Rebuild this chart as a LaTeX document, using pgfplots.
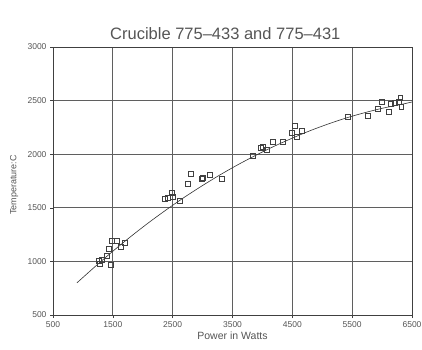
\documentclass[border=0pt]{standalone}
\usepackage{pgfplots}
\pgfplotsset{compat=1.18}
\usepackage{fontspec}
\setmainfont{Liberation Sans}
\definecolor{txt}{HTML}{555555}
\definecolor{grd}{HTML}{5F5F5F}
\begin{document}
\begin{tikzpicture}[x=1pt,y=1pt]
\useasboundingbox (0,0) rectangle (422,349);
\begin{axis}[
  at={(53pt,34pt)}, anchor=south west,
  scale only axis, width=359pt, height=268pt,
  xmin=500, xmax=6500, ymin=500, ymax=3000,
  xtick={500,1500,2500,3500,4500,5500,6500},
  ytick={500,1000,1500,2000,2500,3000},
  xticklabels={500,1500,2500,3500,4500,5500,6500},
  yticklabels={500,1000,1500,2000,2500,3000},
  grid=major,
  major grid style={grd, line width=0.8pt},
  axis line style={black!75, line width=0.9pt},
  tick style={black!75, line width=0.6pt},
  tick align=outside, major tick length=3pt,
  xtick pos=bottom, ytick pos=left,
  ticklabel style={font=\fontsize{8.5}{9}\selectfont, text=txt},
  xlabel={Power in Watts}, ylabel={Temperature:C},
  xlabel style={font=\fontsize{10.5}{12}\selectfont, text=txt, yshift=3pt},
  ylabel style={font=\fontsize{9}{10}\selectfont, text=txt, at={(axis description cs:-0.108,0.485)}, anchor=center},
  title={Crucible 775--433 and 775--431},
  title style={font=\fontsize{16.5}{18}\selectfont, text=txt, at={(0.48,1)}, anchor=south, yshift=-2pt},
]
\addplot[black!80, line width=0.6pt, smooth] coordinates {
(900,800) (1200,950) (1500,1095) (1800,1232) (2100,1362) (2400,1484)
(2700,1600) (3000,1708) (3300,1810) (3600,1905) (3900,1993) (4200,2075)
(4500,2150) (4800,2220) (5100,2282) (5400,2338) (5700,2386) (6000,2428)
(6300,2462) (6500,2487)};
\addplot[only marks, mark=square, mark size=2.4pt, black!75, mark options={line width=0.5pt}] coordinates {
(1269,1004) (1319,1013) (1286,976) (1403,1051) (1470,967) (1436,1116)
(1486,1190) (1570,1190) (1637,1134) (1704,1172)
(2373,1582) (2423,1592) (2490,1638) (2506,1601) (2623,1564) (2757,1722)
(2807,1816) (2991,1769) (3008,1778) (3125,1806) (3326,1769)
(3844,1983) (3978,2058) (4011,2067) (4078,2039) (4178,2114) (4346,2114)
(4546,2263) (4496,2198) (4580,2161) (4663,2217)
(5432,2347) (5767,2357) (5934,2422) (6001,2487) (6118,2394) (6151,2469)
(6218,2478) (6302,2525) (6319,2441) (6285,2487)};
\end{axis}
\end{tikzpicture}
\end{document}
